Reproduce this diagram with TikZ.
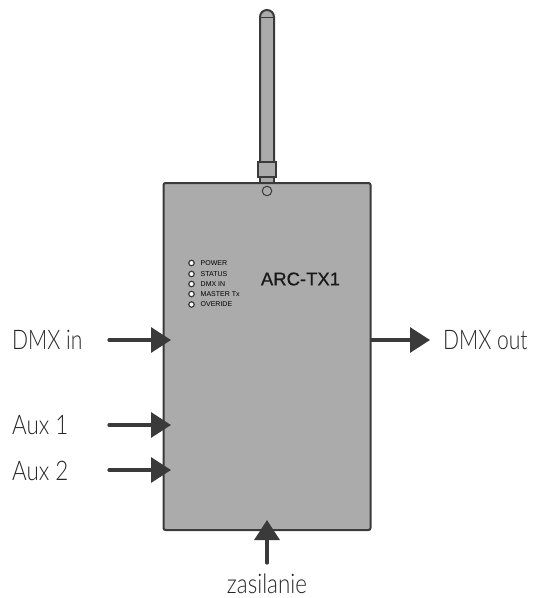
\documentclass[tikz,border=0pt]{standalone}
\usepackage{fontspec}
\setmainfont{Liberation Sans}
\newfontfamily\lightf[FakeStretch=0.83]{Lato Light}
\newfontfamily\lightn[FakeStretch=0.78]{Lato Light}
\newfontfamily\medf[FakeBold=0.6]{Liberation Sans}
\usetikzlibrary{arrows.meta}
\definecolor{dk}{HTML}{3A3A3A}
\definecolor{bodyg}{HTML}{ABABAB}
\tikzset{x=1pt,y=-1pt,
 part/.style={draw=dk,fill=bodyg,line width=2pt},
 led/.style={circle,draw=dk,fill=white,line width=1.2pt,inner sep=0pt,minimum size=5.5pt},
 ledtxt/.style={anchor=west,font=\fontsize{7}{7}\selectfont,text=black,inner sep=0pt},
 sig/.style={draw=dk,line width=3.2pt,line cap=round,-{Triangle[length=20pt,width=25pt,fill=dk,line cap=butt,sep=0pt]}},
 lab/.style={font=\lightf\fontsize{27}{28}\selectfont,text=black!85,inner sep=0pt},
 labn/.style={font=\lightn\fontsize{27}{28}\selectfont,text=black!85,inner sep=0pt}}
\begin{document}
\begin{tikzpicture}
\useasboundingbox (0,0) rectangle (533,598);
% antenna
\draw[part] (260,162) -- (260,17) arc[start angle=180,end angle=360,radius=7] -- (274,162) -- cycle;
\draw[dk,line width=1pt] (260,17) -- (274,17);
\draw[part] (260,176) rectangle (274,184);
\draw[part] (257.5,162) rectangle (276,177);
% body
\node[part,rounded corners=2pt,minimum width=207pt,minimum height=347pt,inner sep=0pt,outer sep=0pt,anchor=north west] (body) at (163.5,183) {};
\node[circle,draw=dk,line width=1pt,inner sep=0pt,minimum size=9.5pt] (hole) at (267,191) {};
% LEDs
\foreach \n/\y/\t in {1/263/POWER,2/274/STATUS,3/284/DMX IN,4/294/MASTER Tx,5/304.5/OVERIDE}{
 \node[led] (led\n) at (191.5,\y) {};
 \node[ledtxt] (ledt\n) at (200.5,\y) {\t};
}
\node[font=\medf\fontsize{18.5}{20}\selectfont,text=black!90,inner sep=0pt] (model) at (300.5,279) {ARC-TX1};
% connector ends
\coordinate (a1) at (109,340); \coordinate (a1e) at (171,340);
\coordinate (a2) at (109,425); \coordinate (a2e) at (171,425);
\coordinate (a3) at (109,470); \coordinate (a3e) at (171,470);
\coordinate (o1) at (372,340); \coordinate (o1e) at (430,340);
\coordinate (p1) at (267,563); \coordinate (p1e) at (267,520);
\draw[sig] (a1) -- (a1e);
\draw[sig] (a2) -- (a2e);
\draw[sig] (a3) -- (a3e);
\draw[sig] (o1) -- (o1e);
\draw[sig] (p1) -- (p1e);
% labels
\node[labn,anchor=west] (l1) at (12,340) {DMX in};
\node[lab,anchor=west] (l2) at (12,425) {Aux 1};
\node[lab,anchor=west] (l3) at (12,471) {Aux 2};
\node[labn,anchor=west] (l4) at (443,340) {DMX out};
\node[lab] (l5) at (267,584) {zasilanie};
\end{tikzpicture}
\end{document}
